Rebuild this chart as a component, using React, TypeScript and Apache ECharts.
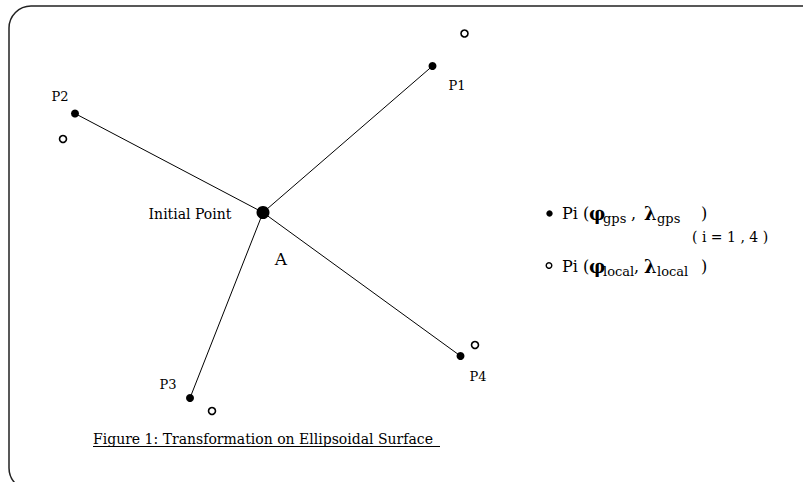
import React, { useEffect, useRef } from "react";
import * as echarts from "echarts";

// Pixel-like drawing units (x to the right, y downward)
const centerPoint = { name: "A", x: 263, y: 212.5 };
const pointNames = ["P1", "P2", "P3", "P4"];
const gpsX = [432.5, 75, 190, 460.5];
const gpsY = [66, 113.5, 398, 356];
const localX = [464.5, 63, 212, 475];
const localY = [33.5, 139, 411, 345];
const labelX = [457, 60, 168, 478];
const labelY = [85, 96, 384, 376];
const initialLabel = { text: "Initial Point", x: 190, y: 214 };
const aLabel = { text: "A", x: 281, y: 259 };
const caption = "Figure 1: Transformation on Ellipsoidal Surface";

const FONT = "DejaVu Serif";

export default function App() {
  const ref = useRef<HTMLDivElement>(null);
  useEffect(() => {
    if (!ref.current) return;
    const chart = echarts.init(ref.current, undefined, { renderer: "svg" });
    const lineSeries = pointNames.map((n, i) => ({
      type: "line",
      name: "line-" + n,
      data: [
        [centerPoint.x, centerPoint.y],
        [gpsX[i], gpsY[i]],
      ],
      symbol: "none",
      lineStyle: { color: "#000", width: 1 },
      silent: true,
      z: 1,
    }));
    const txt = (x: number, y: number, text: string, size: number, extra: any = {}) => ({
      type: "text",
      x,
      y,
      style: {
        text,
        fill: "#000",
        font: `${size}px "${FONT}"`,
        textAlign: "left",
        textVerticalAlign: "bottom",
        ...extra,
      },
    });
    const labelStyle = (size: number) => ({
      show: true,
      position: "inside",
      formatter: (p: any) => p.name,
      color: "#000",
      opacity: 1,
      fontFamily: FONT,
      fontSize: size,
    });
    chart.setOption({
      animation: false,
      backgroundColor: "#fff",
      grid: { left: 0, top: 0, right: 0, bottom: 0 },
      xAxis: { type: "value", min: 0, max: 803, show: false },
      yAxis: { type: "value", min: 0, max: 482, inverse: true, show: false },
      series: [
        ...lineSeries,
        {
          type: "scatter",
          name: "gps",
          data: gpsX.map((x, i) => [x, gpsY[i]]),
          symbol: "circle",
          symbolSize: 8,
          itemStyle: { color: "#000", opacity: 1 },
          z: 3,
        },
        {
          type: "scatter",
          name: "local",
          data: localX.map((x, i) => [x, localY[i]]),
          symbol: "circle",
          symbolSize: 7,
          itemStyle: { color: "#fff", borderColor: "#000", borderWidth: 1.6, opacity: 1 },
          z: 3,
        },
        {
          type: "scatter",
          name: "center",
          data: [[centerPoint.x, centerPoint.y]],
          symbol: "circle",
          symbolSize: 13,
          itemStyle: { color: "#000", opacity: 1 },
          z: 4,
        },
        {
          type: "scatter",
          name: "labels",
          data: [
            ...pointNames.map((n, i) => ({ value: [labelX[i], labelY[i]], name: n, label: labelStyle(13) })),
            { value: [initialLabel.x, initialLabel.y], name: initialLabel.text, label: labelStyle(14) },
            { value: [aLabel.x, aLabel.y], name: aLabel.text, label: labelStyle(17) },
          ],
          symbolSize: 0,
          itemStyle: { color: "#000", opacity: 1 },
          label: labelStyle(14),
          emphasis: { disabled: true },
          z: 5,
        },
      ],
      graphic: [
        {
          type: "rect",
          shape: { x: 9, y: 6, width: 830, height: 484, r: 22 },
          style: { fill: "none", stroke: "#222", lineWidth: 1.5 },
          silent: true,
        },
        { type: "circle", shape: { cx: 549.5, cy: 213.5, r: 3.2 }, style: { fill: "#000" } },
        { type: "circle", shape: { cx: 549, cy: 265.5, r: 2.8 }, style: { fill: "#fff", stroke: "#000", lineWidth: 1.4 } },
        txt(562, 221, "Pi (", 16),
        txt(589, 222, "φ", 18, { font: `bold 18px "${FONT}"` }),
        txt(603, 225, "gps", 13),
        txt(631, 221, ",", 16),
        txt(644, 222, "λ", 18, { font: `bold 18px "${FONT}"` }),
        txt(657, 225, "gps", 13),
        txt(701, 221, ")", 16),
        txt(692, 244, "( i = 1 , 4 )", 14),
        txt(562, 274, "Pi (", 16),
        txt(589, 275, "φ", 18, { font: `bold 18px "${FONT}"` }),
        txt(603, 278, "local", 13),
        txt(634, 274, ",", 16),
        txt(644, 275, "λ", 18, { font: `bold 18px "${FONT}"` }),
        txt(657, 278, "local", 13),
        txt(701, 274, ")", 16),
        txt(93, 446, caption, 14),
        { type: "line", shape: { x1: 93, y1: 446.5, x2: 440, y2: 446.5 }, style: { stroke: "#000", lineWidth: 1 } },
      ],
    });
    return () => chart.dispose();
  }, []);
  return <div ref={ref} style={{ position: "fixed", left: 0, top: 0, width: 803, height: 482 }} />;
}
